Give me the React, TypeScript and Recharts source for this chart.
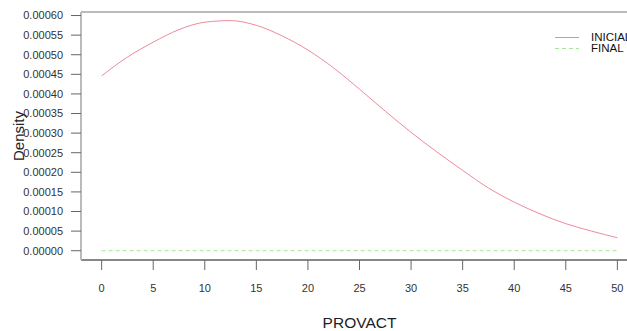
import React from 'react'
import {
  Label,
  Line,
  LineChart,
  ReferenceLine,
  XAxis,
  YAxis,
} from 'recharts'

// density estimates of PROVACT, sampled every 2.5 units
const provact = [
  0, 2.5, 5, 7.5, 10, 12.5, 15, 17.5, 20, 22.5, 25, 27.5, 30, 32.5, 35, 37.5,
  40, 42.5, 45, 47.5, 50,
]
const inicial = [
  0.000446, 0.000494, 0.000532, 0.000564, 0.000583, 0.000587, 0.000575,
  0.000548, 0.000512, 0.000466, 0.000412, 0.000356, 0.000302, 0.000252,
  0.000205, 0.00016, 0.000124, 0.000094, 0.000069, 0.00005, 0.000033,
]
const final = [
  0, 0, 0, 0, 0, 0, 0, 0, 0, 0, 0, 0, 0, 0, 0, 0, 0, 0, 0, 0, 0,
]
const xTicks = [0, 5, 10, 15, 20, 25, 30, 35, 40, 45, 50]
const yTicks = [
  0, 0.00005, 0.0001, 0.00015, 0.0002, 0.00025, 0.0003, 0.00035, 0.0004,
  0.00045, 0.0005, 0.00055, 0.0006,
]

const data = provact.map((x, i) => ({
  x,
  inicial: inicial[i],
  final: final[i],
}))

const FONT = '"Liberation Sans", Arial, sans-serif'
const PINK = '#ee8a9c'
const GREEN = '#a6e59a'
const Y_MAX = 0.000609

const tickStyle = { fill: '#333', fontSize: 11, fontFamily: FONT }

const legendItems = [
  { name: 'INICIAL', color: PINK, dash: undefined },
  { name: 'FINAL', color: GREEN, dash: '4 3' },
]

const LegendBox = () => (
  <div
    style={{
      position: 'absolute',
      left: 555,
      top: 32,
      width: 90,
      fontFamily: FONT,
      fontSize: 11.5,
      lineHeight: '10.5px',
      color: '#111',
    }}
  >
    {legendItems.map((item) => (
      <div
        key={item.name}
        style={{ display: 'flex', alignItems: 'center', height: 10.5 }}
      >
        <svg width={36} height={10}>
          <line
            x1={0}
            y1={5.5}
            x2={24}
            y2={5.5}
            stroke={item.color}
            strokeWidth={1}
            strokeDasharray={item.dash}
          />
        </svg>
        <span>{item.name}</span>
      </div>
    ))}
  </div>
)

export default function App() {
  return (
    <div
      style={{
        position: 'absolute',
        left: 0,
        top: 0,
        width: 627,
        height: 331,
        overflow: 'hidden',
        background: '#fff',
      }}
    >
      <LineChart
        width={638}
        height={331}
        data={data}
        margin={{ top: 12, right: 0, bottom: 0, left: 0 }}
      >
        <XAxis
          dataKey="x"
          type="number"
          domain={[-2, 52]}
          ticks={xTicks}
          allowDataOverflow
          height={71}
          tickSize={10}
          tickMargin={14}
          axisLine={{ stroke: '#111', strokeWidth: 1 }}
          tickLine={{ stroke: '#666' }}
          tick={tickStyle}
        >
          <Label
            value="PROVACT"
            position="insideBottom"
            offset={3}
            style={{ fill: '#222', fontSize: 15.5, fontFamily: FONT }}
          />
        </XAxis>
        <YAxis
          type="number"
          domain={[-0.0000237, Y_MAX]}
          ticks={yTicks}
          allowDataOverflow
          width={81}
          tickSize={10}
          tickMargin={8}
          tickFormatter={(v: number) => v.toFixed(5)}
          axisLine={{ stroke: '#bbb', strokeWidth: 2 }}
          tickLine={{ stroke: '#666' }}
          tick={tickStyle}
        >
          <Label
            content={(props: any) => {
              const vb = props.viewBox
              const cx = 18
              const cy = vb.y + vb.height / 2
              return (
                <text
                  x={cx}
                  y={cy}
                  transform={`rotate(-90, ${cx}, ${cy})`}
                  textAnchor="middle"
                  dominantBaseline="central"
                  fill="#222"
                  fontSize={15}
                  fontFamily={FONT}
                >
                  Density
                </text>
              )
            }}
          />
        </YAxis>
        <ReferenceLine y={Y_MAX} stroke="#bbb" strokeWidth={2} />
        <Line
          dataKey="final"
          type="monotone"
          stroke={GREEN}
          strokeWidth={1}
          strokeDasharray="4 3"
          dot={false}
          isAnimationActive={false}
        />
        <Line
          dataKey="inicial"
          type="monotone"
          stroke={PINK}
          strokeWidth={1}
          dot={false}
          isAnimationActive={false}
        />
      </LineChart>
      <LegendBox />
    </div>
  )
}
